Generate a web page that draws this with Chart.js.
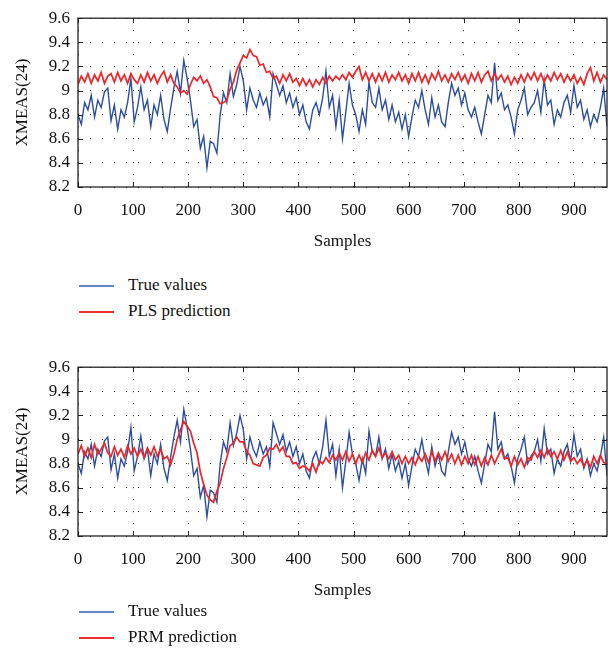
<!DOCTYPE html>
<html>
<head>
<meta charset="utf-8">
<script src="https://cdn.jsdelivr.net/npm/chart.js@4.4.0/dist/chart.umd.min.js"></script>
<style>
  body { margin: 0; background: #fff; width: 613px; height: 653px; position: relative; overflow: hidden; font-family: "Liberation Serif", serif; }
  .plot { position: absolute; left: 0; width: 613px; height: 260px; }
  .key { position: absolute; left: 79px; width: 35px; height: 2px; }
  .txt { position: absolute; left: 128px; font-size: 17px; line-height: 20px; color: #111; white-space: nowrap; }
</style>
</head>
<body>
<div class="plot" style="top:0"><canvas id="top"></canvas></div>
<div class="key" style="top:285px; background:#6b86c4"></div>
<div class="txt" style="top:275px">True values</div>
<div class="key" style="top:311px; background:#f03030"></div>
<div class="txt" style="top:301px">PLS prediction</div>

<div class="plot" style="top:349px"><canvas id="bottom"></canvas></div>
<div class="key" style="top:611px; background:#6b86c4"></div>
<div class="txt" style="top:601px">True values</div>
<div class="key" style="top:637px; background:#f03030"></div>
<div class="txt" style="top:627px">PRM prediction</div>
<script>
// one value every 6 samples
const sampleStep = 6;

const trueValues = [
  8.80, 8.72, 8.90, 8.84, 8.96, 8.78, 8.92, 8.86, 8.99, 9.02,
  8.75, 8.88, 8.68, 8.84, 8.78, 8.90, 9.10, 8.74, 8.86, 9.03,
  8.84, 8.92, 8.70, 8.88, 8.80, 8.96, 8.76, 8.66, 8.85, 9.02,
  9.16, 8.98, 9.25, 9.10, 8.92, 8.70, 8.76, 8.52, 8.62, 8.36,
  8.58, 8.56, 8.48, 8.80, 8.98, 8.90, 9.14, 8.95, 9.05, 9.20,
  9.08, 8.84, 9.02, 8.92, 8.86, 8.98, 8.88, 8.94, 8.78, 9.14,
  9.05, 8.96, 9.04, 8.90, 8.98, 8.86, 8.94, 8.80, 8.88, 8.74,
  8.68, 8.84, 8.90, 8.80, 8.94, 9.16, 8.86, 8.96, 8.70, 8.92,
  8.60, 8.82, 9.06, 8.88, 8.80, 8.66, 8.84, 8.72, 9.07, 8.90,
  8.86, 9.02, 8.84, 8.92, 8.76, 8.88, 8.74, 8.82, 8.68, 8.80,
  8.62, 8.78, 8.92, 8.86, 9.00, 8.84, 8.72, 8.94, 8.78, 8.88,
  8.74, 8.70, 8.90, 9.06, 8.96, 9.02, 8.88, 8.98, 8.84, 8.78,
  8.86, 8.74, 8.64, 8.80, 8.96, 8.90, 9.23, 8.92, 8.98, 8.84,
  8.88, 8.78, 8.64, 8.84, 8.92, 9.02, 8.80, 8.86, 8.90, 9.00,
  8.82, 9.09, 8.88, 8.92, 8.72, 8.84, 8.78, 8.90, 8.96, 8.82,
  9.04, 8.86, 8.92, 8.76, 8.84, 8.70, 8.80, 8.74, 8.86, 9.02,
  8.70
];

const plsValues = [
  9.05, 9.12, 9.07, 9.14, 9.06, 9.13, 9.08, 9.15, 9.06, 9.12,
  9.14, 9.07, 9.15, 9.08, 9.13, 9.06, 9.14, 9.09, 9.06, 9.13,
  9.07, 9.15, 9.08, 9.13, 9.06, 9.12, 9.16, 9.07, 9.13, 9.06,
  9.03, 8.98, 9.00, 8.97, 9.05, 9.11, 9.08, 9.12, 9.06, 9.09,
  9.03, 8.95, 8.94, 8.89, 8.90, 8.92, 9.01, 9.07, 9.17, 9.23,
  9.29, 9.27, 9.34, 9.29, 9.28, 9.21, 9.22, 9.15, 9.16, 9.10,
  9.12, 9.06, 9.13, 9.08, 9.14, 9.07, 9.10, 9.04, 9.10, 9.04,
  9.09, 9.03, 9.09, 9.05, 9.11, 9.06, 9.12, 9.08, 9.12, 9.09,
  9.13, 9.09, 9.15, 9.11, 9.16, 9.20, 9.09, 9.15, 9.08, 9.14,
  9.07, 9.14, 9.08, 9.15, 9.07, 9.13, 9.09, 9.15, 9.08, 9.13,
  9.06, 9.14, 9.08, 9.15, 9.07, 9.13, 9.06, 9.14, 9.09, 9.16,
  9.08, 9.13, 9.07, 9.14, 9.09, 9.15, 9.08, 9.13, 9.06, 9.14,
  9.08, 9.15, 9.07, 9.13, 9.16, 9.08, 9.14, 9.09, 9.13, 9.07,
  9.12, 9.05, 9.11, 9.06, 9.13, 9.07, 9.14, 9.09, 9.15, 9.08,
  9.14, 9.07, 9.13, 9.08, 9.15, 9.09, 9.14, 9.07, 9.13, 9.08,
  9.13, 9.06, 9.11, 9.05, 9.14, 9.19, 9.08, 9.15, 9.07, 9.13,
  9.09
];

const prmValues = [
  8.88, 8.95, 8.86, 8.93, 8.85, 8.96, 8.88, 8.92, 8.97, 8.89,
  8.86, 8.94, 8.87, 8.92, 8.85, 8.95, 8.88, 8.93, 8.86, 8.92,
  8.85, 8.93, 8.87, 8.94, 8.86, 8.92, 8.84, 8.86, 8.79, 8.88,
  9.00, 9.08, 9.15, 9.11, 9.07, 8.97, 8.89, 8.73, 8.63, 8.54,
  8.50, 8.48, 8.57, 8.64, 8.76, 8.85, 8.95, 8.97, 9.02, 8.98,
  8.98, 8.90, 8.87, 8.80, 8.79, 8.78, 8.85, 8.87, 8.93, 8.92,
  8.96, 8.90, 8.94, 8.86, 8.86, 8.80, 8.81, 8.76, 8.78, 8.77,
  8.74, 8.80, 8.73, 8.82, 8.80, 8.85, 8.81, 8.87, 8.83, 8.89,
  8.83, 8.90, 8.82, 8.88, 8.80, 8.87, 8.81, 8.89, 8.83, 8.91,
  8.86, 8.93, 8.85, 8.89, 8.84, 8.90, 8.83, 8.87, 8.80, 8.86,
  8.80, 8.85, 8.79, 8.86, 8.82, 8.88, 8.81, 8.90, 8.82, 8.89,
  8.83, 8.90, 8.82, 8.88, 8.80, 8.87, 8.79, 8.86, 8.80, 8.87,
  8.79, 8.86, 8.78, 8.85, 8.79, 8.87, 8.80, 8.86, 8.92, 8.84,
  8.85, 8.78, 8.86, 8.79, 8.84, 8.77, 8.85, 8.83, 8.90, 8.85,
  8.91, 8.85, 8.92, 8.86, 8.90, 8.84, 8.91, 8.83, 8.90, 8.82,
  8.85, 8.80, 8.84, 8.78, 8.83, 8.77, 8.86, 8.80, 8.87, 8.81,
  8.80
];

const xTicks = [0, 100, 200, 300, 400, 500, 600, 700, 800, 900];
const yTicks = [8.2, 8.4, 8.6, 8.8, 9.0, 9.2, 9.4, 9.6];
const yTickLabels = ['8.2', '8.4', '8.6', '8.8', '9', '9.2', '9.4', '9.6'];

const serif = 'Liberation Serif';

function points(values) {
  return values.map((v, i) => ({ x: i * sampleStep, y: v }));
}

// matlab style box with inward tick marks
const boxPlugin = {
  id: 'box',
  afterDraw(chart) {
    const { ctx, chartArea: a, scales: { x, y } } = chart;
    ctx.save();
    ctx.strokeStyle = '#222';
    ctx.lineWidth = 1;
    ctx.beginPath();
    xTicks.forEach(v => {
      const px = Math.round(x.getPixelForValue(v)) + 0.5;
      ctx.moveTo(px, a.bottom); ctx.lineTo(px, a.bottom - 5);
      ctx.moveTo(px, a.top); ctx.lineTo(px, a.top + 5);
    });
    yTicks.forEach(v => {
      const py = Math.round(y.getPixelForValue(v)) + 0.5;
      ctx.moveTo(a.left, py); ctx.lineTo(a.left + 5, py);
      ctx.moveTo(a.right, py); ctx.lineTo(a.right - 5, py);
    });
    ctx.stroke();
    ctx.lineWidth = 1.3;
    ctx.strokeRect(a.left, a.top, a.right - a.left, a.bottom - a.top);
    ctx.restore();
  }
};

function makeChart(id, predValues, predLabel) {
  return new Chart(document.getElementById(id), {
    type: 'line',
    data: {
      datasets: [
        {
          label: predLabel,
          data: points(predValues),
          borderColor: '#ee2528',
          borderWidth: 1.7,
          pointRadius: 0,
          order: 0
        },
        {
          label: 'True values',
          data: points(trueValues),
          borderColor: '#2c4d9f',
          borderWidth: 1.4,
          pointRadius: 0,
          order: 1
        }
      ]
    },
    options: {
      responsive: true,
      maintainAspectRatio: false,
      animation: false,
      layout: { padding: { top: 13, right: 6, left: 0, bottom: 0 } },
      plugins: { legend: { display: false }, tooltip: { enabled: false } },
      scales: {
        x: {
          type: 'linear',
          min: 0,
          max: 960,
          afterBuildTicks: s => { s.ticks = xTicks.map(v => ({ value: v })); },
          afterFit: s => { s.height = 73; },
          grid: { color: '#333', lineWidth: 1, drawTicks: false },
          border: { display: false, dash: [1, 11] },
          ticks: { color: '#111', padding: 13, maxRotation: 0, font: { family: serif, size: 17 } },
          title: { display: true, text: 'Samples', color: '#111', padding: { top: 0, bottom: 8 }, font: { family: serif, size: 17 } }
        },
        y: {
          min: 8.2,
          max: 9.6,
          afterBuildTicks: s => { s.ticks = yTicks.map(v => ({ value: v })); },
          afterFit: s => { s.width = 78; },
          grid: { color: '#333', lineWidth: 1, drawTicks: false },
          border: { display: false, dash: [1, 11] },
          ticks: { color: '#111', padding: 8, font: { family: serif, size: 17 }, callback: (v, i) => yTickLabels[i] },
          title: { display: true, text: 'XMEAS(24)', color: '#111', padding: { top: 12, bottom: 0 }, font: { family: serif, size: 17 } }
        }
      }
    },
    plugins: [boxPlugin]
  });
}

makeChart('top', plsValues, 'PLS prediction');
makeChart('bottom', prmValues, 'PRM prediction');
</script>
</body>
</html>
